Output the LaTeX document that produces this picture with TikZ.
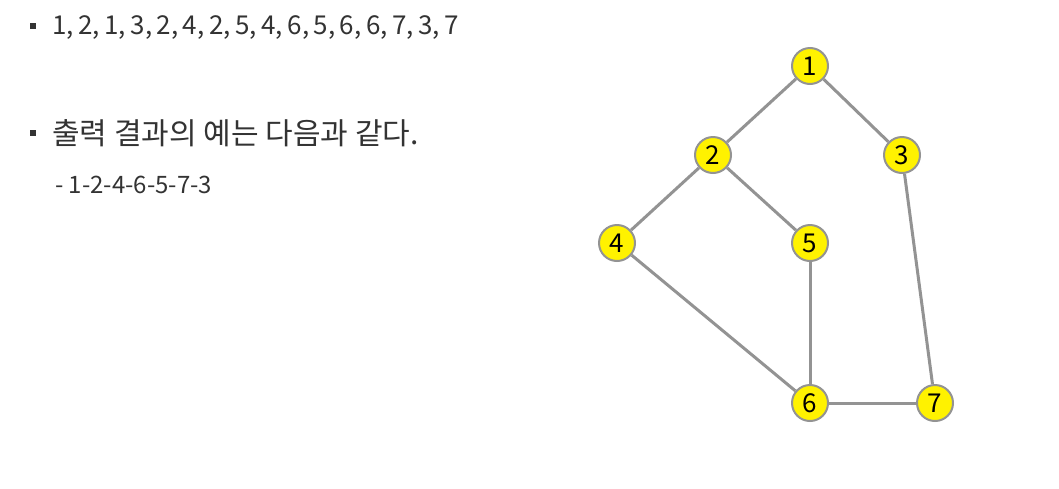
\documentclass[tikz,border=0pt]{standalone}
\usepackage{fontspec}
\setmainfont{Noto Sans CJK KR}
\begin{document}
\begin{tikzpicture}[x=1pt,y=-1pt]
        \tikzstyle{vertex} = [circle, draw=gray!85, fill=yellow, line width=2pt, inner sep=0pt, minimum size=36pt, font=\fontsize{26}{26}\selectfont]
        \tikzstyle{line} = [draw=gray!85, line width=3pt]
        \tikzstyle{item} = [anchor=west, inner sep=0pt, text=black!80]
        \tikzstyle{bullet} = [rectangle, fill=black!80, inner sep=0pt, minimum size=6pt]
        \useasboundingbox (0,0) rectangle (1059,488);
        % text on the left
        \node[bullet] (b1) at (33,26) {};
        \node[item,font=\fontsize{26}{26}\selectfont] (seq) at (52,28) {\spaceskip=4.5pt\relax 1, 2, 1, 3, 2, 4, 2, 5, 4, 6, 5, 6, 6, 7, 3, 7};
        \node[bullet] (b2) at (33,133) {};
        \node[item,font=\fontsize{30}{30}\selectfont] (out) at (52,133) {출력 결과의 예는 다음과 같다.};
        \node[item,font=\fontsize{24}{24}\selectfont] (res) at (55,185) {- 1-2-4-6-5-7-3};
        % graph
        \node[vertex] (n1) at (810,66) {1};
        \node[vertex] (n2) at (713,155) {2};
        \node[vertex] (n3) at (902,155) {3};
        \node[vertex] (n4) at (617,243) {4};
        \node[vertex] (n5) at (810,243) {5};
        \node[vertex] (n6) at (810,403) {6};
        \node[vertex] (n7) at (935,403) {7};
        \draw[line] (n1) to (n2);
        \draw[line] (n1) to (n3);
        \draw[line] (n2) to (n4);
        \draw[line] (n2) to (n5);
        \draw[line] (n4) to (n6);
        \draw[line] (n5) to (n6);
        \draw[line] (n6) to (n7);
        \draw[line] (n3) to (n7);
\end{tikzpicture}
\end{document}
